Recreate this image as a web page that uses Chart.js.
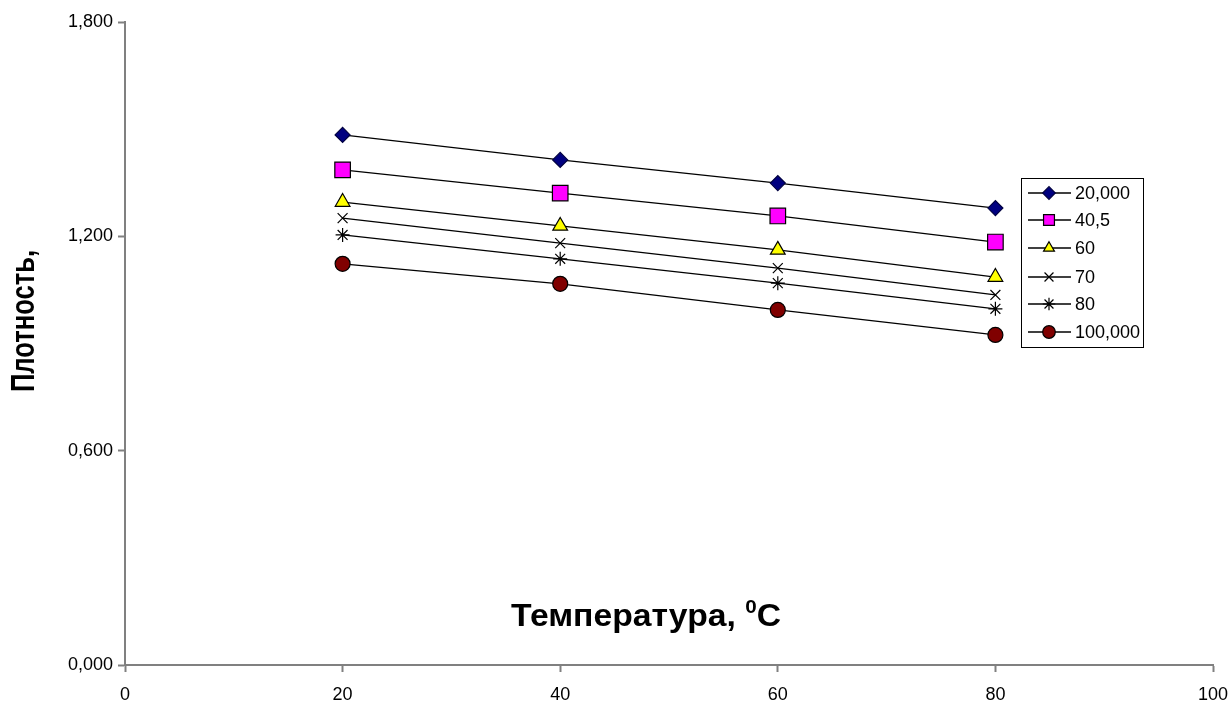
<!DOCTYPE html>
<html>
<head>
<meta charset="utf-8">
<script src="https://cdn.jsdelivr.net/npm/chart.js@4.4.1/dist/chart.umd.min.js"></script>
<style>
  html, body { margin: 0; padding: 0; background: #fff; }
  #density-chart { display: block; }
</style>
</head>
<body>
<canvas id="density-chart" width="1232" height="706"></canvas>
<script>
// data
const temps = [20, 40, 60, 80];
const seriesLabels = ['20,000', '40,5', '60', '70', '80', '100,000'];
const s20000 = [1.484, 1.414, 1.349, 1.279];
const s40_5 = [1.386, 1.321, 1.257, 1.184];
const s60 = [1.296, 1.229, 1.162, 1.086];
const s70 = [1.251, 1.181, 1.111, 1.036];
const s80 = [1.204, 1.137, 1.069, 0.997];
const s100000 = [1.123, 1.067, 0.994, 0.924];
const yTicks = [0, 0.6, 1.2, 1.8];
const xTicks = [0, 20, 40, 60, 80, 100];

const FONT = '"Liberation Sans", Arial, sans-serif';

const toPoints = vals => vals.map((v, i) => ({x: temps[i], y: v}));

const styles = [
  {pointStyle: 'rectRot', radius: 7.5, fill: '#000080', border: '#000040'},
  {pointStyle: 'rect', radius: 11, fill: '#ff00ff', border: '#000000'},
  {pointStyle: 'triangle', radius: 8.5, fill: '#ffff00', border: '#000000'},
  {pointStyle: 'crossRot', radius: 7, fill: '#000000', border: '#000000'},
  {pointStyle: 'star', radius: 7, fill: '#000000', border: '#000000'},
  {pointStyle: 'circle', radius: 7.5, fill: '#800000', border: '#000000'},
];

const allSeries = [s20000, s40_5, s60, s70, s80, s100000];

const datasets = allSeries.map((vals, i) => ({
  label: seriesLabels[i],
  data: toPoints(vals),
  borderColor: '#000000',
  borderWidth: 1.3,
  pointStyle: styles[i].pointStyle,
  pointRadius: styles[i].radius,
  pointHoverRadius: styles[i].radius,
  pointBackgroundColor: styles[i].fill,
  pointBorderColor: styles[i].border,
  pointBorderWidth: 1.2,
  tension: 0,
}));

// draw text squeezed/stretched to a given length (reference text is not uniformly scaled)
function fitText(ctx, text, len) {
  const w = ctx.measureText(text).width;
  ctx.save();
  ctx.scale(len / w, 1);
  ctx.fillText(text, 0, 0);
  ctx.restore();
}

// titles + excel-like legend box
const decorations = {
  id: 'decorations',
  afterDraw(chart) {
    const ctx = chart.ctx;
    ctx.save();
    ctx.fillStyle = '#000';
    ctx.textBaseline = 'middle';
    ctx.textAlign = 'center';

    // y title
    ctx.font = 'bold 34px ' + FONT;
    ctx.translate(25, 321);
    ctx.rotate(-Math.PI / 2);
    fitText(ctx, 'Плотность,', 142);
    ctx.setTransform(1, 0, 0, 1, 0, 0);

    // x title with superscript 0
    const main = 'Температура, ';
    ctx.font = 'bold 31px ' + FONT;
    const wMain = ctx.measureText(main).width;
    const wC = ctx.measureText('C').width;
    ctx.font = 'bold 19px ' + FONT;
    const wSup = ctx.measureText('0').width;
    const total = wMain + wSup + wC;
    const k = 270 / total;
    ctx.translate(646 - 135, 617);
    ctx.scale(k, 1);
    ctx.textAlign = 'left';
    let x = 0;
    ctx.font = 'bold 31px ' + FONT;
    ctx.fillText(main, x, 0);
    x += wMain;
    ctx.font = 'bold 19px ' + FONT;
    ctx.fillText('0', x, -9);
    x += wSup;
    ctx.font = 'bold 31px ' + FONT;
    ctx.fillText('C', x, 0);
    ctx.setTransform(1, 0, 0, 1, 0, 0);

    // legend
    const bx = 1021, by = 178, bw = 122, bh = 169;
    ctx.strokeStyle = '#000';
    ctx.lineWidth = 1;
    ctx.strokeRect(bx + 0.5, by + 0.5, bw, bh);
    const rows = [193, 220, 248, 277, 304, 332];
    ctx.font = '18px ' + FONT;
    chart.data.datasets.forEach((ds, i) => {
      const y = rows[i];
      ctx.beginPath();
      ctx.strokeStyle = '#000';
      ctx.lineWidth = 1.3;
      ctx.moveTo(1028, y);
      ctx.lineTo(1071, y);
      ctx.stroke();
      ctx.fillStyle = ds.pointBackgroundColor;
      ctx.strokeStyle = ds.pointBorderColor;
      ctx.lineWidth = 1.2;
      Chart.helpers.drawPoint(ctx, {
        pointStyle: ds.pointStyle,
        radius: Math.min(ds.pointRadius, 7) * (ds.pointStyle === 'rect' ? 1.1 : 0.9),
        rotation: 0,
        borderWidth: 1.2,
      }, 1049, y);
      ctx.fillStyle = '#000';
      ctx.textAlign = 'left';
      ctx.fillText(ds.label, 1075, y + 1);
    });
    ctx.restore();
  },
};

const config = {
  type: 'line',
  data: {datasets},
  options: {
    responsive: false,
    animation: false,
    layout: {padding: {left: 0, top: 22, right: 19, bottom: 0}},
    plugins: {
      legend: {display: false},
      tooltip: {enabled: false},
    },
    scales: {
      x: {
        type: 'linear',
        min: 0,
        max: 100,
        afterBuildTicks: scale => { scale.ticks = xTicks.map(v => ({value: v})); },
        afterFit: scale => {
          scale.height = 41;
          scale.paddingLeft = 0;
          scale.paddingRight = 0;
        },
        grid: {drawOnChartArea: false, drawTicks: true, tickLength: 7, tickColor: '#808080', tickWidth: 2},
        border: {color: '#808080', width: 2},
        ticks: {color: '#000', font: {family: FONT, size: 18}, padding: 12},
      },
      y: {
        min: 0,
        max: 1.8,
        afterBuildTicks: scale => { scale.ticks = yTicks.map(v => ({value: v})); },
        afterFit: scale => {
          scale.width = 125;
          scale.paddingTop = 0;
          scale.paddingBottom = 0;
        },
        grid: {drawOnChartArea: false, drawTicks: true, tickLength: 7, tickColor: '#808080', tickWidth: 2},
        border: {color: '#808080', width: 2},
        ticks: {
          color: '#000',
          font: {family: FONT, size: 18},
          padding: 5,
          callback: v => v.toFixed(3).replace('.', ','),
        },
      },
    },
  },
  plugins: [decorations],
};

new Chart(document.querySelector('#density-chart'), config);
</script>
</body>
</html>
